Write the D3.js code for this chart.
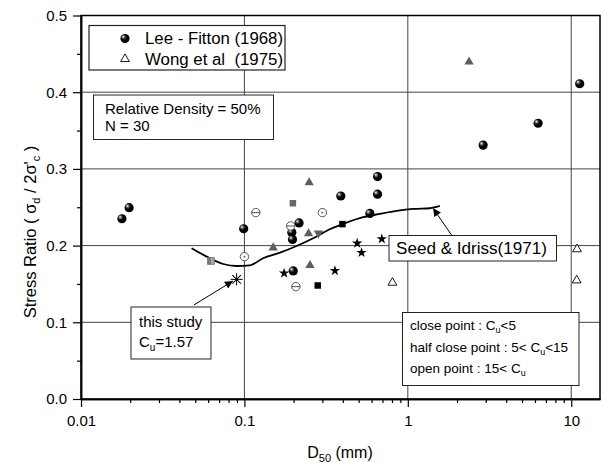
<!DOCTYPE html>
<html>
<head>
<meta charset="utf-8">
<script src="https://cdn.jsdelivr.net/npm/d3@7"></script>
<style>
  body { margin: 0; background: #fff; }
  svg { font-family: "Liberation Sans", Arial, sans-serif; }
</style>
</head>
<body>
<script>
// data: [D50 (mm), stress ratio]
const spheres = [[0.0178, 0.235], [0.0197, 0.2495], [0.099, 0.222], [0.216, 0.2295],
  [0.195, 0.217], [0.197, 0.208], [0.389, 0.2647], [0.653, 0.29], [0.653, 0.267],
  [0.586, 0.242], [0.199, 0.167], [2.89, 0.331], [6.27, 0.3595], [11.27, 0.411]];
const circleLine = [[0.1175, 0.243], [0.192, 0.2256], [0.2066, 0.1465]];
const circleDot = [[0.1, 0.1856], [0.30, 0.243]];
const grayTriUp = [[0.249, 0.2834], [0.247, 0.217], [0.15, 0.1986], [0.252, 0.1756], [2.37, 0.4408]];
const grayTriDown = [[0.284, 0.215]];
const graySquare = [[0.198, 0.2552]];
const halfSquare = [[0.0624, 0.18]];
const blackSquare = [[0.398, 0.228], [0.281, 0.148]];
const stars = [[0.49, 0.203], [0.693, 0.2087], [0.521, 0.1908], [0.175, 0.164], [0.358, 0.1673]];
const openTri = [[0.805, 0.153], [10.85, 0.1966], [10.8, 0.156]];
const thisStudy = [[0.0896, 0.156]];

// Seed & Idriss (1971) curve
const seedCurve = [[0.0475, 0.1965], [0.0588, 0.1856], [0.0742, 0.176], [0.0896, 0.1734],
  [0.108, 0.1743], [0.130, 0.1835], [0.165, 0.1908], [0.2086, 0.1995], [0.2636, 0.2096],
  [0.333, 0.2213], [0.422, 0.23], [0.533, 0.237], [0.674, 0.2413], [0.853, 0.2452],
  [1.078, 0.2478], [1.364, 0.2487], [1.57, 0.2517]];

const xMajor = [0.01, 0.1, 1, 10];
const xLabels = ["0.01", "0.1", "1", "10"];
const yMajor = [0, 0.1, 0.2, 0.3, 0.4, 0.5];
const yLabels = ["0.0", "0.1", "0.2", "0.3", "0.4", "0.5"];

const width = 605, height = 463;
const svg = d3.select("body").append("svg")
  .attr("width", width).attr("height", height);

const x = d3.scaleLog().domain([0.01, 15]).range([81, 600]);
const y = d3.scaleLinear().domain([0, 0.5]).range([399, 15.5]);

const defs = svg.append("defs");
const grad = defs.append("radialGradient").attr("id", "ball")
  .attr("cx", "0.4").attr("cy", "0.4").attr("r", "0.6")
  .attr("fx", "0.3").attr("fy", "0.3");
grad.append("stop").attr("offset", "0").attr("stop-color", "#fff");
grad.append("stop").attr("offset", "0.25").attr("stop-color", "#666");
grad.append("stop").attr("offset", "0.5").attr("stop-color", "#000");
defs.append("marker").attr("id", "arrow")
  .attr("viewBox", "0 0 10 10").attr("refX", 10).attr("refY", 5)
  .attr("markerWidth", 10).attr("markerHeight", 8)
  .attr("markerUnits", "userSpaceOnUse")
  .attr("orient", "auto")
  .append("path").attr("d", "M0,0 L10,5 L0,10 z").attr("fill", "#000");

// grid
const grid = svg.append("g").attr("stroke", "#444").attr("stroke-width", 1);
grid.selectAll(".gx").data([0.1, 1, 10]).join("line")
  .attr("x1", d => x(d)).attr("x2", d => x(d))
  .attr("y1", y(0)).attr("y2", y(0.5));
grid.selectAll(".gy").data([0.1, 0.2, 0.3, 0.4]).join("line")
  .attr("x1", x(0.01)).attr("x2", x(15))
  .attr("y1", d => y(d)).attr("y2", d => y(d));

// frame
svg.append("rect")
  .attr("x", x(0.01)).attr("y", y(0.5))
  .attr("width", x(15) - x(0.01)).attr("height", y(0) - y(0.5))
  .attr("fill", "none").attr("stroke", "#000").attr("stroke-width", 1.5);

// axes
const xMinor = [];
for (let e = -2; e <= 1; e++) {
  for (let k = 2; k <= 9; k++) {
    const v = k * Math.pow(10, e);
    if (v < 15) xMinor.push(v);
  }
}
const yMinor = [0.05, 0.15, 0.25, 0.35, 0.45];

svg.append("g").attr("transform", `translate(0,${y(0)})`)
  .call(d3.axisBottom(x).tickValues(xMajor).tickFormat((d, i) => xLabels[i])
    .tickSize(8).tickPadding(8).tickSizeOuter(0));
svg.append("g").attr("transform", `translate(0,${y(0)})`)
  .call(d3.axisBottom(x).tickValues(xMinor).tickFormat("").tickSize(4).tickSizeOuter(0));
svg.append("g").attr("transform", `translate(${x(0.01)},0)`)
  .call(d3.axisLeft(y).tickValues(yMajor).tickFormat((d, i) => yLabels[i])
    .tickSize(8).tickPadding(6).tickSizeOuter(0));
svg.append("g").attr("transform", `translate(${x(0.01)},0)`)
  .call(d3.axisLeft(y).tickValues(yMinor).tickFormat("").tickSize(4).tickSizeOuter(0));

svg.selectAll(".domain").attr("stroke-width", 1.5);
svg.selectAll(".tick line").attr("stroke-width", 1.2);
svg.selectAll(".tick text").attr("font-size", 15)
  .attr("font-family", "Liberation Sans, Arial, sans-serif").attr("fill", "#000");

// axis titles
const xt = svg.append("text").attr("x", 340).attr("y", 458)
  .attr("text-anchor", "middle").attr("font-size", 16);
xt.append("tspan").text("D");
xt.append("tspan").attr("dy", 4).attr("font-size", 11).text("50");
xt.append("tspan").attr("dy", -4).text(" (mm)");

const yt = svg.append("text").attr("transform", "translate(36,232) rotate(-90)")
  .attr("text-anchor", "middle").attr("font-size", 16.5);
yt.append("tspan").text("Stress Ratio ( σ");
yt.append("tspan").attr("dy", 4).attr("font-size", 11).text("d");
yt.append("tspan").attr("dy", -4).text(" / 2σ'");
yt.append("tspan").attr("dy", 4).attr("font-size", 11).text("c");
yt.append("tspan").attr("dy", -4).text(" )");

// Seed & Idriss curve
svg.append("path")
  .datum(seedCurve)
  .attr("fill", "none").attr("stroke", "#000").attr("stroke-width", 1.8)
  .attr("d", d3.line().x(d => x(d[0])).y(d => y(d[1])).curve(d3.curveMonotoneX));

// markers
const sym = (type, size) => d3.symbol().type(type).size(size)();
const pts = svg.append("g");

pts.selectAll(".ball").data(spheres).join("circle")
  .attr("cx", d => x(d[0])).attr("cy", d => y(d[1])).attr("r", 4.6)
  .attr("fill", "url(#ball)");

const cl = pts.selectAll(".cl").data(circleLine).join("g")
  .attr("transform", d => `translate(${x(d[0])},${y(d[1])})`);
cl.append("circle").attr("r", 4.2).attr("fill", "#fff").attr("stroke", "#555").attr("stroke-width", 1);
cl.append("line").attr("x1", -4.2).attr("x2", 4.2).attr("stroke", "#555").attr("stroke-width", 1);

const cd = pts.selectAll(".cd").data(circleDot).join("g")
  .attr("transform", d => `translate(${x(d[0])},${y(d[1])})`);
cd.append("circle").attr("r", 4.2).attr("fill", "#fff").attr("stroke", "#555").attr("stroke-width", 1);
cd.append("circle").attr("r", 0.9).attr("fill", "#555");

pts.selectAll(".tu").data(grayTriUp).join("path")
  .attr("transform", d => `translate(${x(d[0])},${y(d[1]) + 1})`)
  .attr("d", sym(d3.symbolTriangle, 38)).attr("fill", "#5f5f5f");
pts.selectAll(".td").data(grayTriDown).join("path")
  .attr("transform", d => `translate(${x(d[0])},${y(d[1]) - 1}) rotate(180)`)
  .attr("d", sym(d3.symbolTriangle, 38)).attr("fill", "#5f5f5f");
pts.selectAll(".gs").data(graySquare).join("path")
  .attr("transform", d => `translate(${x(d[0])},${y(d[1])})`)
  .attr("d", sym(d3.symbolSquare, 42)).attr("fill", "#6a6a6a");
const hs = pts.selectAll(".hs").data(halfSquare).join("g")
  .attr("transform", d => `translate(${x(d[0])},${y(d[1])})`);
hs.append("rect").attr("x", -3.3).attr("y", -3.3).attr("width", 6.6).attr("height", 6.6)
  .attr("fill", "#aaa").attr("stroke", "#777").attr("stroke-width", 1);
hs.append("rect").attr("x", -3.3).attr("y", -3.3).attr("width", 3.3).attr("height", 6.6)
  .attr("fill", "#777");
pts.selectAll(".bs").data(blackSquare).join("path")
  .attr("transform", d => `translate(${x(d[0])},${y(d[1])})`)
  .attr("d", sym(d3.symbolSquare, 42)).attr("fill", "#000");
pts.selectAll(".st").data(stars).join("path")
  .attr("transform", d => `translate(${x(d[0])},${y(d[1])})`)
  .attr("d", sym(d3.symbolStar, 34)).attr("fill", "#000");
pts.selectAll(".ot").data(openTri).join("path")
  .attr("transform", d => `translate(${x(d[0])},${y(d[1]) + 1})`)
  .attr("d", sym(d3.symbolTriangle, 34)).attr("fill", "#fff").attr("stroke", "#000").attr("stroke-width", 0.9);

// this study: asterisk
const ast = pts.selectAll(".ast").data(thisStudy).join("g")
  .attr("transform", d => `translate(${x(d[0])},${y(d[1])})`)
  .attr("stroke", "#000").attr("stroke-width", 1);
[0, 45, 90, 135].forEach(a => {
  ast.append("line").attr("x1", -6).attr("x2", 6).attr("transform", `rotate(${a})`);
});

// boxes
function box(x0, y0, w, h, sw = 1) {
  svg.append("rect").attr("x", x0).attr("y", y0).attr("width", w).attr("height", h)
    .attr("fill", "#fff").attr("stroke", "#222").attr("stroke-width", sw);
}

// legend
box(89, 25.5, 196, 44.5, 1.2);
svg.append("circle").attr("cx", 125).attr("cy", 38.5).attr("r", 4.6).attr("fill", "url(#ball)");
svg.append("text").attr("x", 145).attr("y", 44).attr("font-size", 16)
  .attr("textLength", 138).attr("lengthAdjust", "spacingAndGlyphs").text("Lee - Fitton (1968)");
svg.append("path").attr("transform", "translate(125,59)")
  .attr("d", sym(d3.symbolTriangle, 34)).attr("fill", "#fff").attr("stroke", "#000").attr("stroke-width", 0.9);
svg.append("text").attr("x", 145).attr("y", 64.5).attr("font-size", 16)
  .attr("textLength", 138).attr("lengthAdjust", "spacingAndGlyphs")
  .attr("xml:space", "preserve").text("Wong et al  (1975)");

// relative density
box(93.5, 95, 180, 44.5);
svg.append("text").attr("x", 105).attr("y", 114).attr("font-size", 15).text("Relative Density = 50%");
svg.append("text").attr("x", 105).attr("y", 131).attr("font-size", 15).text("N = 30");

// this study box + arrow
svg.append("line")
  .attr("x1", x(0.0491)).attr("y1", y(0.1226))
  .attr("x2", x(0.0851)).attr("y2", y(0.1539))
  .attr("stroke", "#000").attr("stroke-width", 1).attr("marker-end", "url(#arrow)");
box(131, 307, 80, 52);
svg.append("text").attr("x", 139).attr("y", 327).attr("font-size", 15).text("this study");
const cu = svg.append("text").attr("x", 139).attr("y", 347).attr("font-size", 15);
cu.append("tspan").text("C");
cu.append("tspan").attr("dy", 4).attr("font-size", 10).text("u");
cu.append("tspan").attr("dy", -4).text("=1.57");

// Seed & Idriss label + arrow
svg.append("line")
  .attr("x1", x(1.85)).attr("y1", y(0.2139))
  .attr("x2", x(1.428)).attr("y2", y(0.2487))
  .attr("stroke", "#000").attr("stroke-width", 1).attr("marker-end", "url(#arrow)");
box(389, 235.5, 167.5, 25.5);
svg.append("text").attr("x", 396).attr("y", 254).attr("font-size", 16)
  .attr("textLength", 151).attr("lengthAdjust", "spacingAndGlyphs").text("Seed & Idriss(1971)");

// close point box
box(402.5, 312.5, 176.5, 73);
const lines = [["close point : C", "u", "<5"], ["half close point : 5< C", "u", "<15"], ["open point : 15< C", "u", ""]];
lines.forEach((l, i) => {
  const t = svg.append("text").attr("x", 410).attr("y", 330 + i * 21.5).attr("font-size", 13.5);
  t.append("tspan").text(l[0]);
  t.append("tspan").attr("dy", 3).attr("font-size", 9).text(l[1]);
  t.append("tspan").attr("dy", -3).text(l[2]);
});
</script>
</body>
</html>
